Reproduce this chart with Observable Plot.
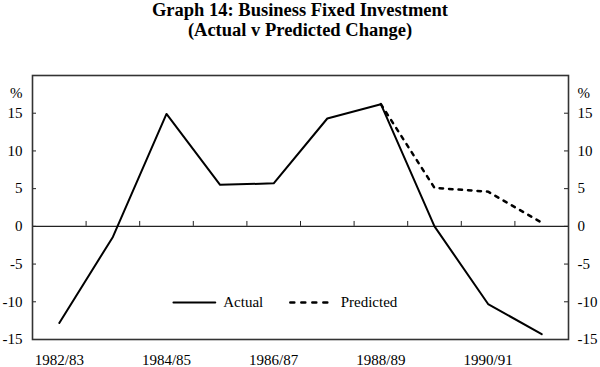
<!DOCTYPE html>
<html>
<head>
<meta charset="utf-8">
<script src="https://cdn.jsdelivr.net/npm/d3@7"></script>
<script src="https://cdn.jsdelivr.net/npm/@observablehq/plot@0.6"></script>
<style>
  body { margin: 0; background: #fff; }
  #title { font: bold 18.5px "Liberation Serif", serif; text-align: center; line-height: 20px; height: 50px; padding-top: 0px; color: #000; }
</style>
</head>
<body>
<div id="title">Graph 14: Business Fixed Investment<br>(Actual v Predicted Change)</div>
<div id="chart"></div>
<script>
const years = ["1982/83","1983/84","1984/85","1985/86","1986/87","1987/88","1988/89","1989/90","1990/91","1991/92"];
const actual = [-12.8, -1.4, 14.9, 5.5, 5.7, 14.3, 16.2, 0, -10.3, -14.3];
const predictedYears = ["1988/89","1989/90","1990/91","1991/92"];
const predicted = [16.2, 5.1, 4.6, 0.5];
const xTickLabels = ["1982/83","1984/85","1986/87","1988/89","1990/91"];
const yTicks = [-15, -10, -5, 0, 5, 10, 15];
const yUnit = "%";
const unitLevel = 17.6;
const legendItems = [
  {name: "Actual", x1: 2.63, x2: 3.41, y: -10.1, dash: null},
  {name: "Predicted", x1: 4.81, x2: 5.6, y: -10.1, dash: "4,7"}
];

const W = 600, H = 317, mL = 32, mR = 32;
const innerW = W - mL - mR;
const pos = y => years.indexOf(y) + 0.5;

const actualData = years.map((y, i) => ({x: pos(y), v: actual[i]}));
const predData = predictedYears.map((y, i) => ({x: pos(y), v: predicted[i]}));
const boundaries = years.slice(1).map((y, i) => i + 1);

const font = "Liberation Serif, serif";
const fmt = d => String(d);

const chart = Plot.plot({
  width: W, height: H,
  marginTop: 25, marginBottom: 28, marginLeft: mL, marginRight: mR,
  style: {fontFamily: font, fontSize: "15px", color: "#000", background: "#fff"},
  x: {type: "linear", domain: [0, years.length]},
  y: {domain: [-15, 20]},
  marks: [
    Plot.ruleY([0], {stroke: "#222", strokeWidth: 1.2}),
    Plot.ruleX(boundaries, {y1: 0, y2: 0.65, stroke: "#222", strokeWidth: 1}),
    Plot.ruleY(yTicks, {insetRight: innerW - 4, stroke: "#222"}),
    Plot.ruleY(yTicks, {insetLeft: innerW - 4, stroke: "#222"}),
    Plot.frame({stroke: "#333", strokeWidth: 1.6}),
    Plot.axisY(yTicks, {anchor: "left", tickSize: 0, tickPadding: 10, fontSize: 15, label: null, tickFormat: fmt}),
    Plot.axisY(yTicks, {anchor: "right", tickSize: 0, tickPadding: 9, fontSize: 15, label: null, tickFormat: fmt}),
    Plot.axisX(xTickLabels.map(pos), {anchor: "bottom", tickSize: 0, tickPadding: 15, fontSize: 15, label: null,
      tickFormat: v => years[Math.round(v - 0.5)]}),
    Plot.text([yUnit], {frameAnchor: "left", y: () => unitLevel, dx: -10, textAnchor: "end", fontSize: 15}),
    Plot.text([yUnit], {frameAnchor: "right", y: () => unitLevel, dx: 9, textAnchor: "start", fontSize: 15}),
    Plot.line(predData, {x: "x", y: "v", stroke: "#000", strokeWidth: 2.5, strokeDasharray: "3.5,6"}),
    Plot.line(actualData, {x: "x", y: "v", stroke: "#000", strokeWidth: 2}),
    ...legendItems.map(d => Plot.line([{x: d.x1, y: d.y}, {x: d.x2, y: d.y}],
      {x: "x", y: "y", stroke: "#000", strokeWidth: d.dash ? 2.5 : 2, strokeDasharray: d.dash})),
    Plot.text(legendItems, {x: d => d.x2, y: "y", text: "name", dx: 8, textAnchor: "start", fontSize: 15})
  ]
});
document.getElementById("chart").appendChild(chart);
</script>
</body>
</html>
